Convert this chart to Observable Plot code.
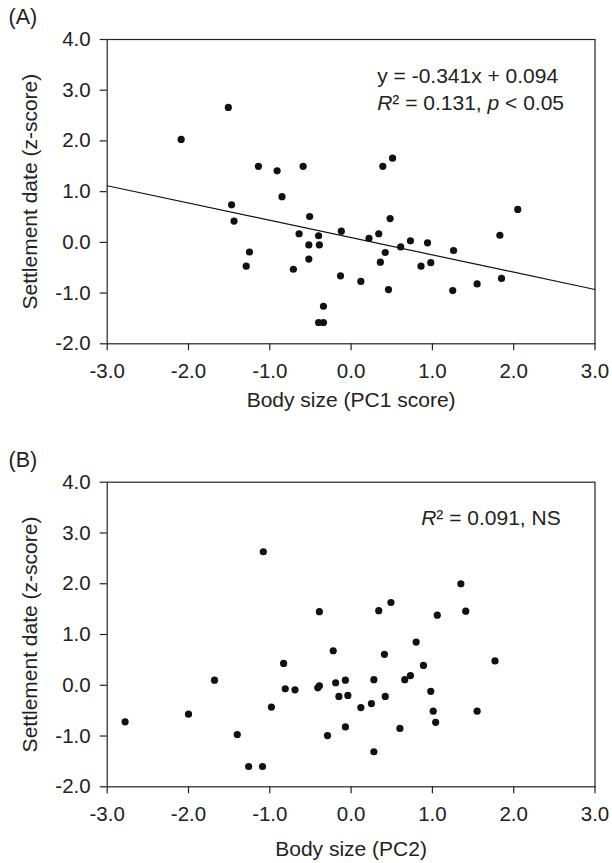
<!DOCTYPE html>
<html>
<head>
<meta charset="utf-8">
<script src="https://cdn.jsdelivr.net/npm/d3@7"></script>
<script src="https://cdn.jsdelivr.net/npm/@observablehq/plot@0.6"></script>
<style>
  body { margin: 0; background: #fff; }
  #chart { width: 612px; }
  #chart svg { display: block; }
</style>
</head>
<body>
<div id="chart"></div>
<script>
// ---- Panel A: Body size (PC1 score) vs settlement date ----
const pc1   = [-1.51, -2.09, -1.14, -0.91, -0.59, -0.85, -1.47, -1.44, -0.51, -0.64, -0.40, -0.52, -0.39, -1.25, -1.29, -0.71, -0.52, -0.34, -0.40, -0.34, -0.12, -0.13, 0.12, 0.22, 0.34, 0.39, 0.51, 0.48, 0.42, 0.36, 0.46, 0.61, 0.73, 0.94, 0.86, 0.98, 1.26, 1.25, 1.55, 1.83, 1.85, 2.05];
const dateA = [2.66, 2.03, 1.50, 1.41, 1.50, 0.90, 0.74, 0.42, 0.51, 0.17, 0.13, -0.05, -0.05, -0.19, -0.47, -0.53, -0.33, -1.26, -1.58, -1.58, 0.22, -0.66, -0.77, 0.08, 0.17, 1.50, 1.66, 0.47, -0.20, -0.39, -0.93, -0.09, 0.03, -0.01, -0.47, -0.40, -0.16, -0.95, -0.82, 0.14, -0.71, 0.65];
const slopeA = -0.341;
const interceptA = 0.094;
const notesA = ["y = -0.341x + 0.094", "R² = 0.131, p < 0.05"];

// ---- Panel B: Body size (PC2) vs settlement date ----
const pc2   = [-1.08, -0.39, -0.22, -0.83, -1.68, -0.81, -0.69, -0.39, -0.41, -0.19, -0.15, -2.00, -2.78, -0.98, -1.40, -0.29, -0.07, -0.04, -0.07, 0.12, 0.25, 0.28, 0.42, 0.41, 0.34, 0.49, 0.60, 0.66, 0.73, 0.80, 0.89, 0.98, 1.01, 1.04, 1.06, 1.35, 1.41, 1.55, 1.77, -1.26, -1.09, 0.28];
const dateB = [2.63, 1.45, 0.68, 0.43, 0.10, -0.07, -0.09, -0.01, -0.05, 0.05, -0.22, -0.57, -0.72, -0.43, -0.97, -0.99, 0.10, -0.20, -0.82, -0.44, -0.36, 0.11, -0.22, 0.61, 1.47, 1.63, -0.85, 0.11, 0.19, 0.85, 0.39, -0.12, -0.51, -0.73, 1.38, 2.00, 1.46, -0.51, 0.48, -1.60, -1.60, -1.31];
const notesB = ["R² = 0.091, NS"];

// ---- Axes ----
const xTicks = [-3, -2, -1, 0, 1, 2, 3];
const yTicks = [-2, -1, 0, 1, 2, 3, 4];
const xDomain = [-3, 3];
const yDomain = [-2, 4];
const yTitle = "Settlement date (z-score)";

const FONT = "'Liberation Sans', Arial, Helvetica, sans-serif";
const INK = "#222";

function panel({label, xs, ys, xTitle, notes, noteDx, noteDy, fit, height, marginTop, marginBottom, labelDy, titleDy}) {
  const idx = d3.range(xs.length);
  const marks = [
    Plot.frame({stroke: INK, strokeWidth: 1.2}),
    Plot.axisX(xTicks, {tickSize: 7, tickPadding: 13, tickFormat: d => d.toFixed(1), stroke: INK, strokeWidth: 1.2, fill: INK, label: null}),
    Plot.axisY(yTicks, {tickSize: 7, tickPadding: 9.5, tickFormat: d => d.toFixed(1), stroke: INK, strokeWidth: 1.2, fill: INK, label: null}),
  ];
  if (fit) {
    marks.push(Plot.line(xDomain, {x: d => d, y: d => fit.slope * d + fit.intercept, stroke: "#111", strokeWidth: 1.2}));
  }
  marks.push(
    Plot.dot(idx, {x: i => xs[i], y: i => ys[i], r: 3.6, fill: "#111", stroke: "none"}),
    Plot.text([label], {frameAnchor: "top-left", textAnchor: "start", lineAnchor: "middle", dx: -98.7, dy: labelDy, fontSize: 21.5, fill: INK}),
    Plot.text([yTitle], {frameAnchor: "left", rotate: -90, textAnchor: "middle", lineAnchor: "middle", dx: -76.5, fontSize: 21, fill: INK}),
    Plot.text([xTitle], {frameAnchor: "bottom", textAnchor: "middle", lineAnchor: "middle", dy: titleDy, fontSize: 21, fill: INK}),
  );
  notes.forEach((n, k) => {
    marks.push(Plot.text([n], {frameAnchor: "top-left", textAnchor: "start", lineAnchor: "middle", dx: noteDx, dy: noteDy + 27 * k, fontSize: 21, fill: INK}));
  });
  const svg = Plot.plot({
    width: 612,
    height,
    marginLeft: 106.7,
    marginRight: 17.5,
    marginTop,
    marginBottom,
    x: {domain: xDomain},
    y: {domain: yDomain},
    style: {fontFamily: FONT, fontSize: "20.5px", color: INK, background: "#fff", overflow: "visible"},
    marks
  });
  // italic R and p, as in the printed statistics
  d3.select(svg).selectAll("text").each(function() {
    const t = this.textContent;
    if (!t.includes("²")) return;
    const parts = t.split(/(R|\bp\b)/).filter(s => s.length);
    const sel = d3.select(this);
    sel.text(null);
    parts.forEach(p => {
      const ts = sel.append("tspan").text(p);
      if (p === "R" || p === "p") ts.attr("font-style", "italic");
    });
  });
  return svg;
}

const chart = document.getElementById("chart");
chart.appendChild(panel({
  label: "(A)", xs: pc1, ys: dateA, xTitle: "Body size (PC1 score)",
  notes: notesA, noteDx: 270, noteDy: 36.7,
  fit: {slope: slopeA, intercept: interceptA},
  height: 440, marginTop: 39, marginBottom: 96.7, labelDy: -22, titleDy: 56
}));
chart.appendChild(panel({
  label: "(B)", xs: pc2, ys: dateB, xTitle: "Body size (PC2)",
  notes: notesB, noteDx: 314, noteDy: 36,
  fit: null,
  height: 423, marginTop: 41.7, marginBottom: 76.7, labelDy: -21.7, titleDy: 62
}));
</script>
</body>
</html>
